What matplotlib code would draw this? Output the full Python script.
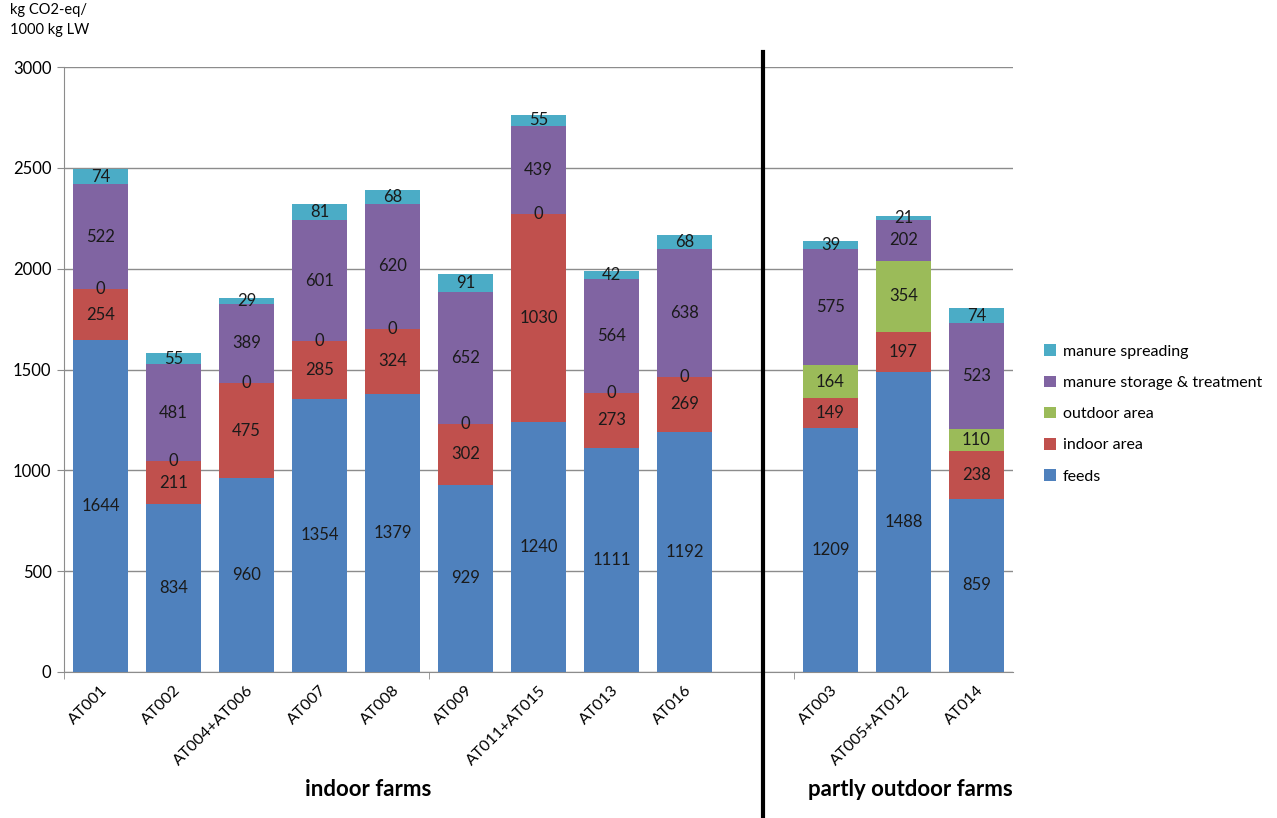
import matplotlib
matplotlib.use("Agg")
import matplotlib.pyplot as plt
import numpy as np

plt.rcParams['font.family'] = ['Lato', 'DejaVu Sans']

categories = ["AT001", "AT002", "AT004+AT006", "AT007", "AT008", "AT009",
              "AT011+AT015", "AT013", "AT016", "", "AT003", "AT005+AT012", "AT014"]
feeds      = [1644, 834, 960, 1354, 1379, 929, 1240, 1111, 1192, None, 1209, 1488, 859]
indoor     = [254, 211, 475, 285, 324, 302, 1030, 273, 269, None, 149, 197, 238]
outdoor    = [0, 0, 0, 0, 0, 0, 0, 0, 0, None, 164, 354, 110]
storage    = [522, 481, 389, 601, 620, 652, 439, 564, 638, None, 575, 202, 523]
spreading  = [74, 55, 29, 81, 68, 91, 55, 42, 68, None, 39, 21, 74]

series = [("feeds", feeds, "#4F81BD"),
          ("indoor area", indoor, "#C0504D"),
          ("outdoor area", outdoor, "#9BBB59"),
          ("manure storage & treatment", storage, "#8064A2"),
          ("manure spreading", spreading, "#4BACC6")]

fig = plt.figure(figsize=(12.77, 8.18), dpi=100)
ax = fig.add_axes([64/1277, 1-672/818, (1013-64)/1277, (672-67)/818])

x = np.arange(len(categories))
bottom = np.zeros(len(categories))
handles = []
for name, vals, col in series:
    v = np.array([np.nan if a is None else a for a in vals], dtype=float)
    mask = ~np.isnan(v)
    h = ax.bar(x[mask], v[mask], 0.75, bottom=bottom[mask], color=col, label=name, zorder=3)
    handles.append(h)
    for xi, vi, bi in zip(x[mask], v[mask], bottom[mask]):
        ax.text(xi, bi + vi/2, f"{int(vi)}", ha='center', va='center',
                fontsize=12, color='#1a1a1a', zorder=4)
    bottom[mask] += v[mask]

ax.set_xlim(-0.5, len(categories)-0.5)
ax.set_ylim(0, 3000)
ax.set_yticks(np.arange(0, 3001, 500))
ax.yaxis.grid(True, color='#8c8c8c', linewidth=1, zorder=0)
ax.tick_params(axis='y', labelsize=12, length=5, color='#8c8c8c', pad=4)
ax.set_xticks(x)
ax.set_xticklabels(categories, rotation=45, ha='right', rotation_mode='anchor', fontsize=11.5)
ax.tick_params(axis='x', length=0, pad=8)
ax.set_xticks([-0.5, 4.5, 9.5], minor=True)
ax.tick_params(axis='x', which='minor', length=5, color='#8c8c8c')
for s in ['top', 'right']:
    ax.spines[s].set_visible(False)
for s in ['left', 'bottom']:
    ax.spines[s].set_color('#8c8c8c')

leg = ax.legend(handles=handles[::-1], labels=[s[0] for s in series][::-1],
                loc='center left', bbox_to_anchor=(1030/1277, 1-414/818),
                bbox_transform=fig.transFigure, frameon=False, fontsize=11.5,
                handlelength=0.75, handleheight=0.75, handletextpad=0.4,
                labelspacing=1.05)

fig.text(10/1277, 1-20/818, "kg CO2-eq/\n1000 kg LW", fontsize=10.5, va='center', ha='left',
         linespacing=1.5)
fig.text(368/1277, 1-790/818, "indoor farms", fontsize=16, fontweight='bold', ha='center', va='center')
fig.text(910/1277, 1-789/818, "partly outdoor farms", fontsize=16, fontweight='bold', ha='center', va='center')
fig.add_artist(plt.Line2D([763/1277, 763/1277], [0, 1-52/818], color='black', linewidth=3,
                          transform=fig.transFigure))

fig.savefig("out.png", dpi=100)
